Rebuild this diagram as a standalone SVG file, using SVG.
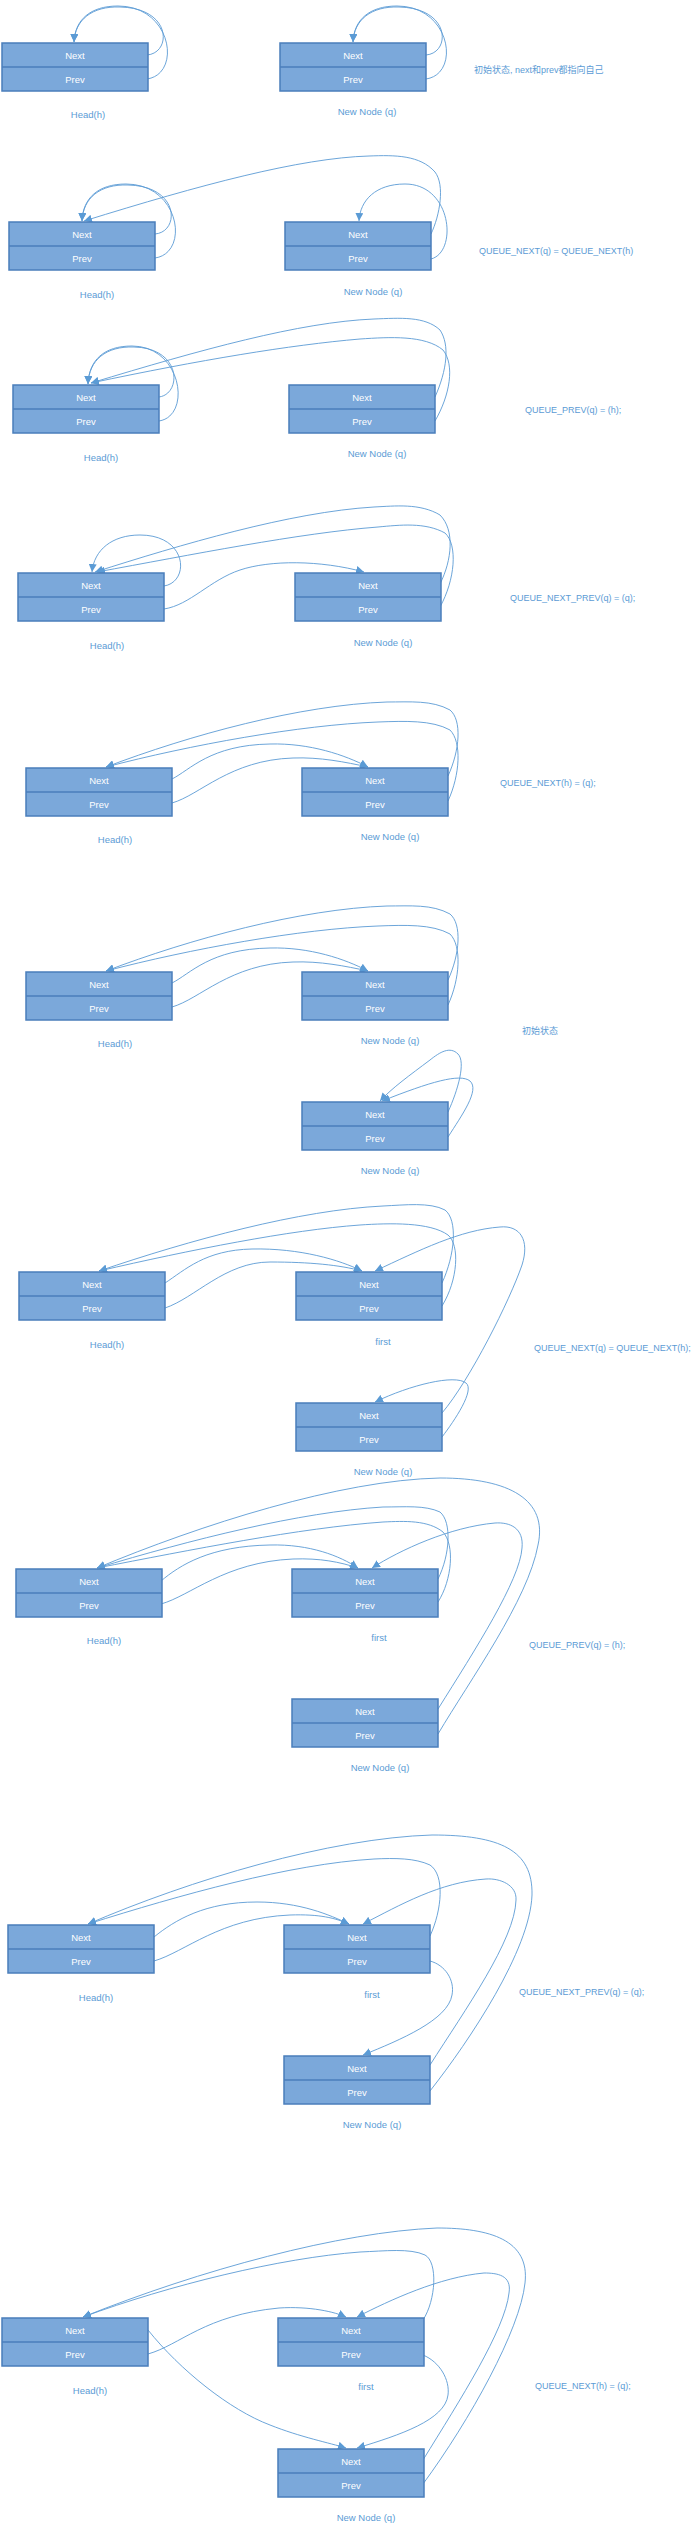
<svg xmlns="http://www.w3.org/2000/svg" width="698" height="2533" viewBox="0 0 698 2533">
<style>
.bx{fill:#7BA8DA;stroke:#4A7EBB;stroke-width:1.5}
.dv{stroke:#4A7EBB;stroke-width:1.5}
.ft{fill:#fff;font-family:"Liberation Sans",Arial,sans-serif;font-size:9.5px;text-anchor:middle}
.lb{fill:#5B9BD5;font-family:"Liberation Sans","Noto Sans CJK SC",sans-serif;font-size:9.5px;text-anchor:middle}
.nt{fill:#5B9BD5;font-family:"Liberation Sans","Noto Sans CJK SC",sans-serif;font-size:9px}
.c{fill:none;stroke:#5B9BD5;stroke-width:0.9;marker-end:url(#ah)}
</style>
<defs>
<marker id="ah" viewBox="0 0 10 10" refX="10" refY="5" markerWidth="8" markerHeight="8" markerUnits="userSpaceOnUse" orient="auto">
<path d="M0,0 L10,5 L0,10 z" fill="#5B9BD5"/>
</marker>
<g id="node">
<rect class="bx" x="0" y="0" width="146" height="48"/>
<line class="dv" x1="0" y1="24" x2="146" y2="24"/>
<text class="ft" x="73" y="15.5">Next</text>
<text class="ft" x="73" y="39.5">Prev</text>
</g>
</defs>
<rect width="698" height="2533" fill="#fff"/>

<g id="connectors">
<!-- S1 -->
<path class="c" d="M147,55 C172,53 172,8 120,7 C92,6 75,20 74,42"/>
<path class="c" d="M147,79 C182,74 172,6 118,6 C90,6 75,20 74,42"/>
<path class="c" d="M426,55 C451,53 451,8 399,7 C371,6 354,20 353,42"/>
<path class="c" d="M426,79 C461,74 451,6 397,6 C369,6 354,20 353,42"/>
<!-- S2 -->
<path class="c" d="M155,234 C180,232 180,186 128,185 C100,184 83,198 82,221"/>
<path class="c" d="M155,258 C190,253 180,184 126,184 C98,184 83,198 82,221"/>
<path class="c" d="M431,234 C440,215 445,185 435,172 C420,155 395,155 369,156 C300,158 200,185 84,221"/>
<path class="c" d="M431,259 C458,252 452,184 405,184 C376,184 360,200 359,221"/>
<!-- S3 -->
<path class="c" d="M159,397 C182,394 182,348 134,347 C106,346 89,360 88,384"/>
<path class="c" d="M159,421 C192,416 182,346 132,346 C104,346 89,360 88,384"/>
<path class="c" d="M435,397 C447,370 450,345 440,330 C425,316 400,318 374,319 C300,322 200,350 91,383"/>
<path class="c" d="M435,421 C450,395 455,365 443,350 C425,335 390,337 360,339 C290,345 200,360 91,383"/>
<!-- S4 -->
<path class="c" d="M164,586 C190,582 188,535 140,535 C112,535 94,550 92,572"/>
<path class="c" d="M164,609 C190,605 210,580 240,570 C270,560 320,560 364,572"/>
<path class="c" d="M440,584 C452,560 455,530 440,515 C420,503 395,506 374,507 C290,512 180,545 95,572"/>
<path class="c" d="M440,607 C455,580 458,545 445,533 C425,522 400,525 378,527 C300,533 190,555 97,572"/>
<!-- S5 -->
<g id="s5c">
<path class="c" d="M172,779 C190,770 210,745 270,744 C310,743 345,755 368,767"/>
<path class="c" d="M172,803 C200,795 230,760 293,758 C320,757 345,762 368,767"/>
<path class="c" d="M448,776 C460,750 462,720 450,710 C432,700 410,702 387,702 C300,705 190,735 106,767"/>
<path class="c" d="M448,801 C460,775 462,742 450,730 C432,720 405,721 378,722 C300,725 190,745 106,767"/>
</g>
<!-- S6 -->
<g transform="translate(0,204)">
<path class="c" d="M172,779 C190,770 210,745 270,744 C310,743 345,755 368,767"/>
<path class="c" d="M172,803 C200,795 230,760 293,758 C320,757 345,762 368,767"/>
<path class="c" d="M448,776 C460,750 462,720 450,710 C432,700 410,702 387,702 C300,705 190,735 106,767"/>
<path class="c" d="M448,801 C460,775 462,742 450,730 C432,720 405,721 378,722 C300,725 190,745 106,767"/>
</g>
<!-- S6b -->
<path class="c" d="M448,1112 C458,1090 466,1062 458,1054 C450,1046 440,1052 430,1060 C410,1075 392,1088 380,1101"/>
<path class="c" d="M448,1137 C462,1115 480,1090 470,1081 C460,1073 430,1082 382,1101"/>
<!-- S7 -->
<path class="c" d="M165,1283 C185,1270 205,1250 252,1249 C300,1248 340,1260 362,1271"/>
<path class="c" d="M165,1308 C195,1298 225,1262 270,1262 C310,1262 340,1265 362,1271"/>
<path class="c" d="M442,1283 C455,1255 458,1220 445,1210 C430,1202 405,1205 383,1206 C300,1210 190,1240 99,1271"/>
<path class="c" d="M442,1306 C458,1280 460,1245 448,1235 C430,1222 390,1223 360,1225 C290,1230 190,1250 99,1271"/>
<path class="c" d="M442,1413 C470,1380 510,1300 522,1265 C530,1240 520,1225 500,1227 C460,1230 420,1250 375,1271"/>
<path class="c" d="M442,1437 C455,1420 475,1390 466,1383 C455,1374 410,1385 375,1402"/>
<!-- S8 -->
<path class="c" d="M161,1581 C180,1565 210,1546 270,1545 C310,1544 340,1556 358,1568"/>
<path class="c" d="M161,1604 C190,1596 225,1562 293,1559 C320,1558 340,1562 358,1568"/>
<path class="c" d="M438,1579 C450,1555 452,1522 440,1512 C425,1505 405,1507 383,1507 C300,1512 190,1540 97,1568"/>
<path class="c" d="M438,1602 C452,1580 455,1545 443,1532 C428,1520 405,1521 383,1522 C300,1528 190,1550 97,1568"/>
<path class="c" d="M438,1734 C470,1680 528,1600 538,1545 C548,1500 510,1478 440,1478 C340,1480 200,1525 97,1568"/>
<path class="c" d="M438,1709 C475,1650 520,1580 522,1548 C524,1528 510,1522 495,1523 C450,1527 400,1550 372,1568"/>
<!-- S9 -->
<path class="c" d="M154,1937 C175,1920 205,1902 257,1902 C300,1902 330,1915 349,1924"/>
<path class="c" d="M154,1961 C185,1952 220,1918 290,1915 C320,1914 335,1918 349,1924"/>
<path class="c" d="M430,1936 C442,1910 445,1875 430,1865 C415,1858 395,1858 374,1859 C290,1864 180,1895 88,1924"/>
<path class="c" d="M430,2091 C470,2040 530,1950 532,1895 C533,1850 500,1835 432,1835 C330,1838 190,1880 88,1924"/>
<path class="c" d="M430,2065 C465,2010 515,1940 516,1900 C517,1885 500,1878 486,1879 C440,1882 400,1905 363,1924"/>
<path class="c" d="M430,1961 C445,1965 455,1980 452,1995 C448,2020 400,2040 363,2055"/>
<!-- S10 -->
<path class="c" d="M148,2330 C180,2370 230,2410 270,2425 C300,2437 330,2443 346,2448"/>
<path class="c" d="M148,2354 C180,2345 205,2315 279,2308 C310,2306 335,2312 346,2317"/>
<path class="c" d="M423,2320 C436,2300 438,2262 425,2255 C410,2248 385,2251 360,2252 C280,2258 170,2285 83,2317"/>
<path class="c" d="M423,2484 C470,2420 520,2330 525,2283 C530,2240 490,2228 437,2228 C340,2232 200,2270 83,2317"/>
<path class="c" d="M423,2460 C460,2400 505,2330 509,2293 C512,2275 497,2273 484,2273 C440,2277 390,2300 357,2317"/>
<path class="c" d="M423,2355 C440,2362 450,2380 448,2395 C445,2420 400,2435 357,2448"/>
</g>

<!-- Nodes -->
<g id="s1-head"><use href="#node" x="2" y="43"/><text class="lb" x="88" y="118">Head(h)</text></g>
<g id="s1-q"><use href="#node" x="280" y="43"/><text class="lb" x="367" y="115">New Node (q)</text></g>
<g id="s1-note"><text class="nt" x="474" y="72.5">初始状态, next和prev都指向自己</text></g>

<g id="s2-head"><use href="#node" x="9" y="222"/><text class="lb" x="97" y="298">Head(h)</text></g>
<g id="s2-q"><use href="#node" x="285" y="222"/><text class="lb" x="373" y="295">New Node (q)</text></g>
<g id="s2-note"><text class="nt" x="479" y="254">QUEUE_NEXT(q) = QUEUE_NEXT(h)</text></g>

<g id="s3-head"><use href="#node" x="13" y="385"/><text class="lb" x="101" y="461">Head(h)</text></g>
<g id="s3-q"><use href="#node" x="289" y="385"/><text class="lb" x="377" y="457">New Node (q)</text></g>
<g id="s3-note"><text class="nt" x="525" y="413">QUEUE_PREV(q) = (h);</text></g>

<g id="s4-head"><use href="#node" x="18" y="573"/><text class="lb" x="107" y="648.5">Head(h)</text></g>
<g id="s4-q"><use href="#node" x="295" y="573"/><text class="lb" x="383" y="646">New Node (q)</text></g>
<g id="s4-note"><text class="nt" x="510" y="601">QUEUE_NEXT_PREV(q) = (q);</text></g>

<g id="s5-head"><use href="#node" x="26" y="768"/><text class="lb" x="115" y="842.5">Head(h)</text></g>
<g id="s5-q"><use href="#node" x="302" y="768"/><text class="lb" x="390" y="840">New Node (q)</text></g>
<g id="s5-note"><text class="nt" x="500" y="786">QUEUE_NEXT(h) = (q);</text></g>

<g id="s6-head"><use href="#node" x="26" y="972"/><text class="lb" x="115" y="1047">Head(h)</text></g>
<g id="s6-q"><use href="#node" x="302" y="972"/><text class="lb" x="390" y="1044">New Node (q)</text></g>
<g id="s6-note"><text class="nt" x="522" y="1034">初始状态</text></g>
<g id="s6-newq"><use href="#node" x="302" y="1102"/><text class="lb" x="390" y="1174">New Node (q)</text></g>

<g id="s7-head"><use href="#node" x="19" y="1272"/><text class="lb" x="107" y="1348">Head(h)</text></g>
<g id="s7-first"><use href="#node" x="296" y="1272"/><text class="lb" x="383" y="1345">first</text></g>
<g id="s7-note"><text class="nt" x="534" y="1351">QUEUE_NEXT(q) = QUEUE_NEXT(h);</text></g>
<g id="s7-q"><use href="#node" x="296" y="1403"/><text class="lb" x="383" y="1475">New Node (q)</text></g>

<g id="s8-head"><use href="#node" x="16" y="1569"/><text class="lb" x="104" y="1644">Head(h)</text></g>
<g id="s8-first"><use href="#node" x="292" y="1569"/><text class="lb" x="379" y="1641">first</text></g>
<g id="s8-note"><text class="nt" x="529" y="1648">QUEUE_PREV(q) = (h);</text></g>
<g id="s8-q"><use href="#node" x="292" y="1699"/><text class="lb" x="380" y="1771">New Node (q)</text></g>

<g id="s9-head"><use href="#node" x="8" y="1925"/><text class="lb" x="96" y="2001">Head(h)</text></g>
<g id="s9-first"><use href="#node" x="284" y="1925"/><text class="lb" x="372" y="1998">first</text></g>
<g id="s9-note"><text class="nt" x="519" y="1995">QUEUE_NEXT_PREV(q) = (q);</text></g>
<g id="s9-q"><use href="#node" x="284" y="2056"/><text class="lb" x="372" y="2128">New Node (q)</text></g>

<g id="s10-head"><use href="#node" x="2" y="2318"/><text class="lb" x="90" y="2393.5">Head(h)</text></g>
<g id="s10-first"><use href="#node" x="278" y="2318"/><text class="lb" x="366" y="2389.5">first</text></g>
<g id="s10-note"><text class="nt" x="535" y="2389">QUEUE_NEXT(h) = (q);</text></g>
<g id="s10-q"><use href="#node" x="278" y="2449"/><text class="lb" x="366" y="2520.5">New Node (q)</text></g>
</svg>
